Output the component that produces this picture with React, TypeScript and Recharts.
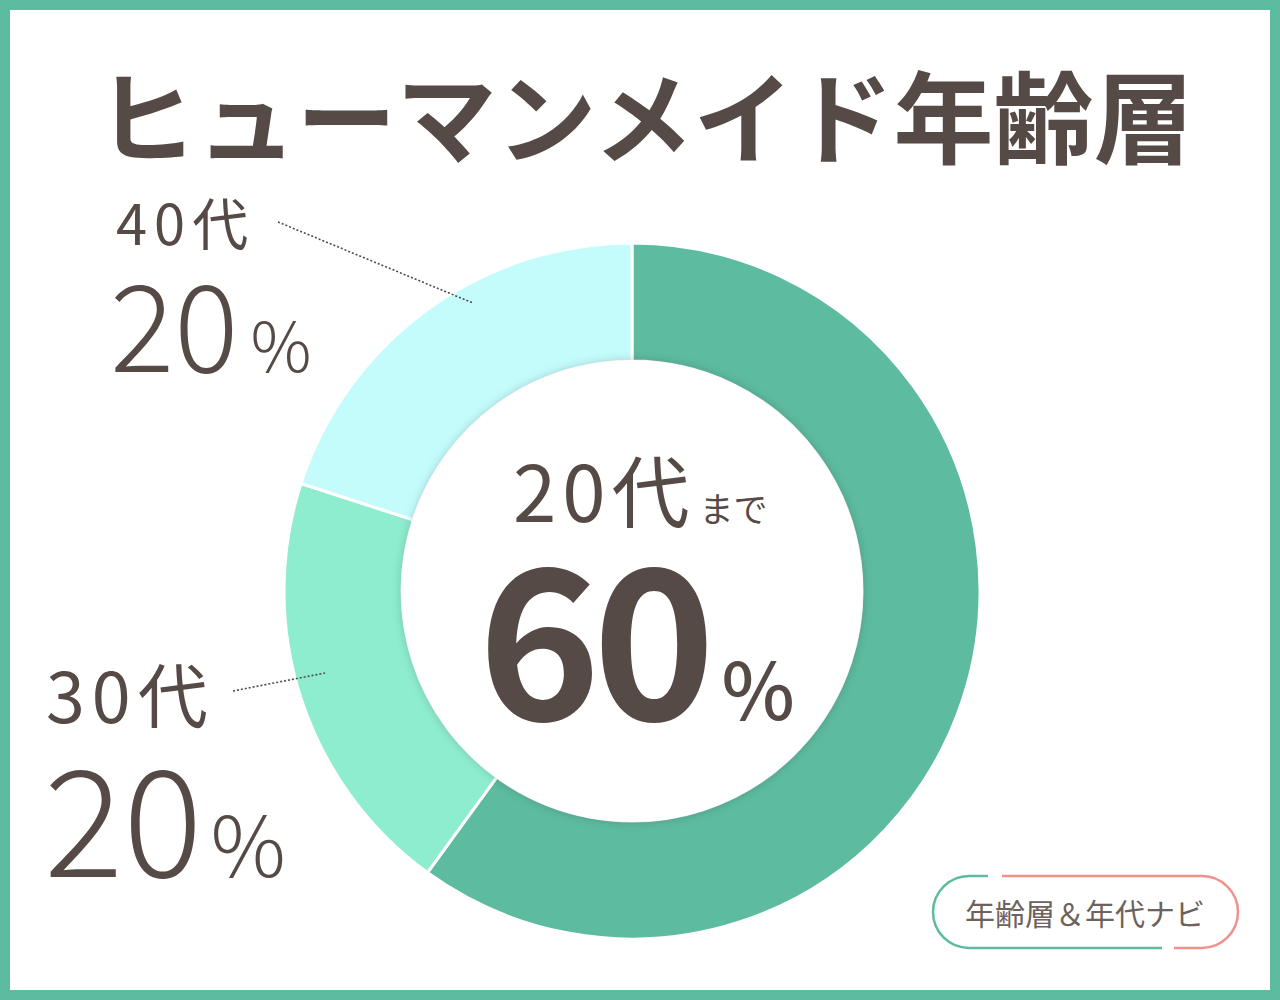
import React from 'react';
import { PieChart, Pie, Cell } from 'recharts';

// age groups and their share (%)
const categories = ['20代まで', '30代', '40代'];
const shares = [60, 20, 20];
const sliceColors = ['#5dbb9f', '#8eedcf', '#c4fcfc'];

const title = 'ヒューマンメイド年齢層';
const badgeText = '年齢層＆年代ナビ';

const TEXT = '#554a45';
const FONT = '"Noto Sans CJK JP", "Noto Sans", sans-serif';

const data = categories.map((name, i) => ({ name, value: shares[i] }));
const disk = [{ name: 'center', value: 1 }];

const W = 1280;
const H = 1000;
// recharts offsets cx/cy by its 5px default margin
const CX = 627;
const CY = 586;

const App: React.FC = () => {
  return (
    <div
      style={{
        position: 'absolute',
        left: 0,
        top: 0,
        width: W,
        height: H,
        boxSizing: 'border-box',
        border: '10px solid #5dbb9f',
        background: '#fff',
        overflow: 'hidden',
        fontFamily: FONT,
      }}
    >
      <div style={{ position: 'absolute', left: -10, top: -10 }}>
        <PieChart width={W} height={H}>
          <Pie
            data={data}
            dataKey="value"
            nameKey="name"
            cx={CX}
            cy={CY}
            innerRadius={230}
            outerRadius={348}
            startAngle={90}
            endAngle={-270}
            stroke="#ffffff"
            strokeWidth={3}
            isAnimationActive={false}
          >
            {data.map((d, i) => (
              <Cell key={d.name} fill={sliceColors[i]} />
            ))}
          </Pie>
          <Pie
            data={disk}
            dataKey="value"
            cx={CX}
            cy={CY}
            innerRadius={0}
            outerRadius={231}
            stroke="none"
            isAnimationActive={false}
          >
            <Cell fill="#ffffff" style={{ filter: 'drop-shadow(0px 0px 5px rgba(0,0,0,0.18))' }} />
          </Pie>
        </PieChart>
      </div>

      <svg
        width={W}
        height={H}
        style={{ position: 'absolute', left: -10, top: -10, pointerEvents: 'none' }}
        fontFamily={FONT}
      >
        {/* title */}
        <text x={645} y={156} textAnchor="middle" fontSize={100} fontWeight={700} fill={TEXT}>
          {title}
        </text>

        {/* 40代 */}
        <text x={116} y={245} fontSize={56} fontWeight={400} fill={TEXT} letterSpacing={7}>
          {categories[2]}
        </text>
        <text x={110} y={372} fontWeight={300} fill={TEXT}>
          <tspan fontSize={120}>{shares[2]}</tspan>
          <tspan fontSize={68} dx={12}>%</tspan>
        </text>
        <line x1={278} y1={222} x2={473} y2={303} stroke={TEXT} strokeWidth={1.6} strokeDasharray="2 2" />

        {/* 30代 */}
        <text x={46} y={723} fontSize={70} fontWeight={400} fill={TEXT} letterSpacing={7}>
          {categories[1]}
        </text>
        <text x={44} y={877} fontWeight={300} fill={TEXT}>
          <tspan fontSize={148}>{shares[1]}</tspan>
          <tspan fontSize={84} dx={8}>%</tspan>
        </text>
        <line x1={233} y1={691} x2={325} y2={673} stroke={TEXT} strokeWidth={1.6} strokeDasharray="2 2" />

        {/* centre */}
        <text x={513} y={522} fill={TEXT} fontWeight={400}>
          <tspan fontSize={78} letterSpacing={6}>{categories[0].replace('まで', '')}</tspan>
          <tspan fontSize={34} dx={4}>まで</tspan>
        </text>
        <text x={478} y={720} fill={TEXT}>
          <tspan fontSize={208} fontWeight={700} letterSpacing={-8}>{shares[0]}</tspan>
          <tspan fontSize={78} fontWeight={500} dx={14}>%</tspan>
        </text>

        {/* badge */}
        <path d="M 988 876 L 969 876 A 36 36 0 0 0 969 948 L 1162 948" fill="none" stroke="#5dbb9f" strokeWidth={2.5} />
        <path d="M 1002 876 L 1202 876 A 36 36 0 0 1 1202 948 L 1174 948" fill="none" stroke="#f0918c" strokeWidth={2.5} />
        <text x={1085} y={925} textAnchor="middle" fontSize={30} fontWeight={400} fill="#6e625c">
          {badgeText}
        </text>
      </svg>
    </div>
  );
};

export default App;
